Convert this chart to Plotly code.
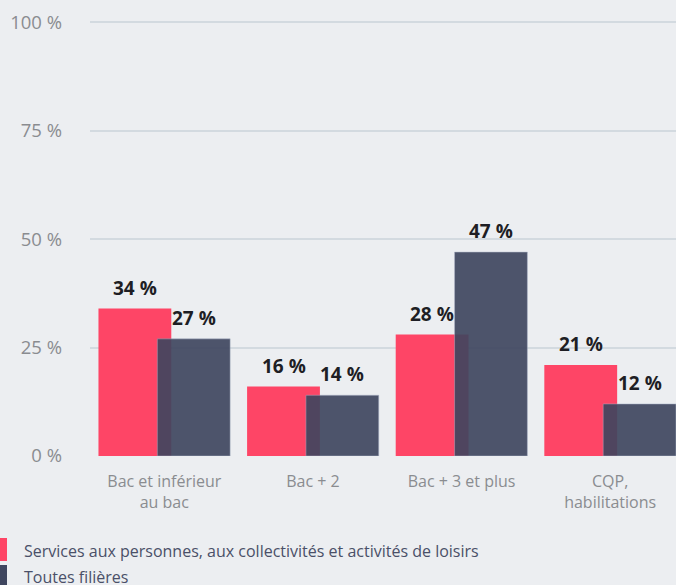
import plotly.graph_objects as go

categories = ["Bac et inférieur<br>au bac", "Bac + 2", "Bac + 3 et plus", "CQP,<br>habilitations"]
series_names = ["Services aux personnes, aux collectivités et activités de loisirs", "Toutes filières"]
services = [34, 16, 28, 21]
toutes = [27, 14, 47, 12]
y_tickvals = [0, 25, 50, 75, 100]
y_ticktext = ["0 %", "25 %", "50 %", "75 %", "100 %"]

RED = "#fe4566"
DARK = "rgb(63,70,95)"
BG = "#eceef1"
W = 0.49
OFFS = [-0.443, -0.047]

idx = list(range(len(categories)))

fig = go.Figure()
fig.add_trace(go.Bar(x=idx, y=services, name=series_names[0], width=W, offset=OFFS[0],
                     marker=dict(color=RED, line=dict(width=0))))
fig.add_trace(go.Bar(x=idx, y=toutes, name=series_names[1], width=W, offset=OFFS[1],
                     marker=dict(color=DARK, opacity=0.915, line=dict(width=1, color="rgba(170,180,200,0.5)"))))

annotations = []
for vals, off in ((services, OFFS[0]), (toutes, OFFS[1])):
    for i, v in zip(idx, vals):
        annotations.append(dict(x=i + off + W / 2, y=v, xref="x", yref="y", text=f"{v} %",
                                showarrow=False, yanchor="bottom", yshift=6,
                                font=dict(family="Open Sans", size=19, color="#1e1e24", weight="bold")))

# legend
shapes = []
leg_colors = [RED, DARK]
leg_y = [(-105, -82), (-132, -109)]
leg_text_y = [-95, -121]
for name, col, (y0, y1), ty in zip(series_names, leg_colors, leg_y, leg_text_y):
    shapes.append(dict(type="rect", xref="paper", yref="paper", xsizemode="pixel", ysizemode="pixel",
                       xanchor=0, yanchor=0, x0=-100, x1=-83, y0=y0, y1=y1,
                       fillcolor=col, line=dict(width=0)))
    annotations.append(dict(xref="paper", yref="paper", x=0, y=0, xshift=-68, yshift=ty,
                            xanchor="left", yanchor="middle", showarrow=False, text=name,
                            font=dict(family="Open Sans", size=16, color="#4a5068")))

fig.update_layout(
    width=676, height=585,
    margin=dict(l=90, r=0, t=20, b=129),
    paper_bgcolor=BG, plot_bgcolor=BG,
    barmode="overlay",
    showlegend=False,
    annotations=annotations,
    shapes=shapes,
    font=dict(family="Open Sans"),
)
fig.update_xaxes(range=[-0.5, 3.443], tickvals=idx, ticktext=categories, showgrid=False,
                 zeroline=False, showline=False, ticks="", ticklabelstandoff=14,
                 tickfont=dict(family="Open Sans", size=16, color="#8a8c90"))
fig.update_yaxes(range=[0, 100.5], tickvals=y_tickvals, ticktext=y_ticktext,
                 showgrid=True, gridcolor="#d3dae0", gridwidth=2, zeroline=False, showline=False,
                 ticks="", ticklabelstandoff=27,
                 tickfont=dict(family="Open Sans", size=18.5, color="#8a8c90"))

fig.write_html("out.html", config={"displayModeBar": False},
               post_script="document.body.style.margin='0';document.body.style.overflow='hidden';")
